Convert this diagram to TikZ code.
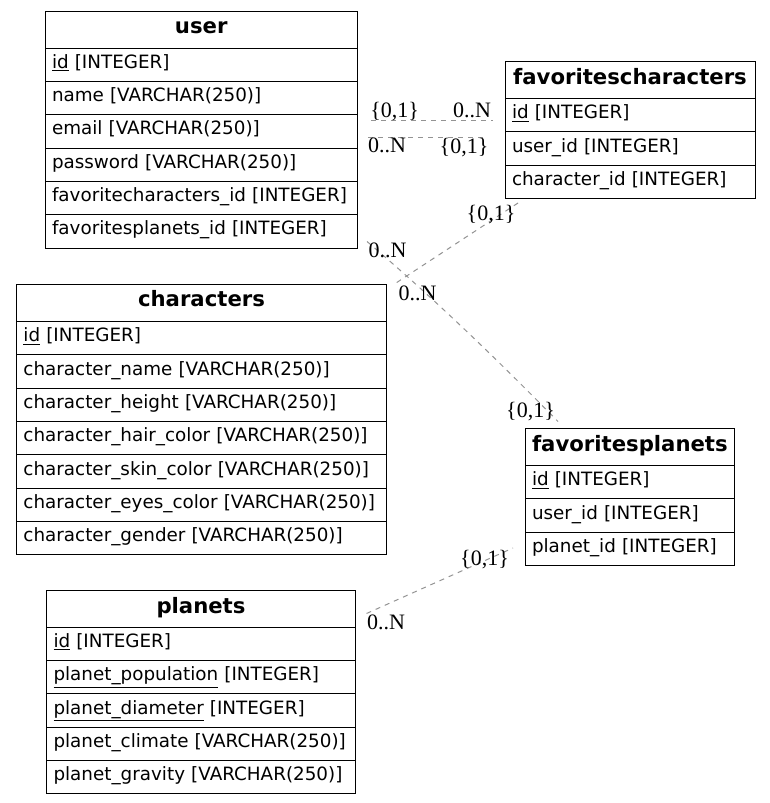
\documentclass[tikz,border=0pt]{standalone}
\usepackage{fontspec}
\setmainfont{Liberation Serif}
\newfontfamily\dvs{DejaVu Sans}
\newcommand\erhead[5]{\node[headcell, minimum width={#4*0.75pt}, text width={(#4-14)*0.75pt}] (#1) at (#2,#3) {#5};}
\newcommand\errow[5]{\node[rowcell, minimum width={#4*0.75pt}, text width={(#4-14)*0.75pt}] (#1) at (#2,#3) {#5};}
\begin{document}
\begin{tikzpicture}[x=0.75pt,y=-0.75pt,
  basecell/.style={draw=black, line width=0.75pt, anchor=north west, inner xsep=5.25pt, inner ysep=0pt},
  headcell/.style={basecell, minimum height=27.75pt, align=center, font=\dvs\bfseries\fontsize{15.9}{18}\selectfont, text height=0.8em, text depth=0.14em},
  rowcell/.style={basecell, minimum height=25pt, align=left, font=\dvs\fontsize{13.75}{16}\selectfont, text height=0.75em, text depth=0.22em},
  rel/.style={draw=gray!85, line width=0.75pt, dash pattern=on 3.75pt off 3.75pt},
  card/.style={anchor=base, inner sep=0pt, font=\fontsize{16.5}{18}\selectfont}]
\useasboundingbox (0,0) rectangle (769,803);

% user
\erhead{user}{44.5}{10.5}{312.5}{user}
\errow{user1}{44.5}{47.5}{312.5}{\underline{id} [INTEGER]}
\errow{user2}{44.5}{80.83}{312.5}{name [VARCHAR(250)]}
\errow{user3}{44.5}{114.17}{312.5}{email [VARCHAR(250)]}
\errow{user4}{44.5}{147.5}{312.5}{password [VARCHAR(250)]}
\errow{user5}{44.5}{180.83}{312.5}{favoritecharacters\_id [INTEGER]}
\errow{user6}{44.5}{214.17}{312.5}{favoritesplanets\_id [INTEGER]}

% favoritescharacters
\erhead{fc}{504.5}{61}{250}{favoritescharacters}
\errow{fc1}{504.5}{98}{250}{\underline{id} [INTEGER]}
\errow{fc2}{504.5}{131.33}{250}{user\_id [INTEGER]}
\errow{fc3}{504.5}{164.67}{250}{character\_id [INTEGER]}

% characters
\erhead{ch}{16}{283.5}{370}{characters}
\errow{ch1}{16}{321}{370}{\underline{id} [INTEGER]}
\errow{ch2}{16}{354.33}{370}{character\_name [VARCHAR(250)]}
\errow{ch3}{16}{387.67}{370}{character\_height [VARCHAR(250)]}
\errow{ch4}{16}{421}{370}{character\_hair\_color [VARCHAR(250)]}
\errow{ch5}{16}{454.33}{370}{character\_skin\_color [VARCHAR(250)]}
\errow{ch6}{16}{487.67}{370}{character\_eyes\_color [VARCHAR(250)]}
\errow{ch7}{16}{521}{370}{character\_gender [VARCHAR(250)]}

% favoritesplanets
\erhead{fp}{524.5}{428}{209}{favoritesplanets}
\errow{fp1}{524.5}{465}{209}{\underline{id} [INTEGER]}
\errow{fp2}{524.5}{498.33}{209}{user\_id [INTEGER]}
\errow{fp3}{524.5}{531.67}{209}{planet\_id [INTEGER]}

% planets
\erhead{pl}{46}{589.7}{309}{planets}
\errow{pl1}{46}{626.7}{309}{\underline{id} [INTEGER]}
\errow{pl2}{46}{660}{309}{\underline{planet\_population} [INTEGER]}
\errow{pl3}{46}{693.3}{309}{\underline{planet\_diameter} [INTEGER]}
\errow{pl4}{46}{726.7}{309}{planet\_climate [VARCHAR(250)]}
\errow{pl5}{46}{760}{309}{planet\_gravity [VARCHAR(250)]}

% relation end points
\coordinate (r1a) at (371,120);
\coordinate (r1b) at (493,120);
\coordinate (r2a) at (368,137.7);
\coordinate (r2b) at (487,137.7);
\coordinate (r3a) at (518,203);
\coordinate (r3b) at (396,283);
\coordinate (r4a) at (367,241.5);
\coordinate (r4b) at (558,421.5);
\coordinate (r5a) at (366.5,613.5);
\coordinate (r5b) at (513,548);

\draw[rel] (r1a) -- (r1b);
\draw[rel] (r2a) -- (r2b);
\draw[rel] (r3a) -- (r3b);
\draw[rel] (r4a) .. controls (450,312) and (520,383) .. (r4b);
\draw[rel] (r5a) -- (r5b);

% cardinality labels
\node[card] (c1a) at (394.7,117.3) {\{0,1\}};
\node[card] (c1b) at (472,117.3) {0..N};
\node[card] (c2a) at (387,152.7) {0..N};
\node[card] (c2b) at (464,153) {\{0,1\}};
\node[card] (c3a) at (491,220) {\{0,1\}};
\node[card] (c3b) at (417.5,300.7) {0..N};
\node[card] (c4a) at (387.5,257.3) {0..N};
\node[card] (c4b) at (530.5,417.3) {\{0,1\}};
\node[card] (c5a) at (484.5,565) {\{0,1\}};
\node[card] (c5b) at (386,629.3) {0..N};
\end{tikzpicture}
\end{document}
